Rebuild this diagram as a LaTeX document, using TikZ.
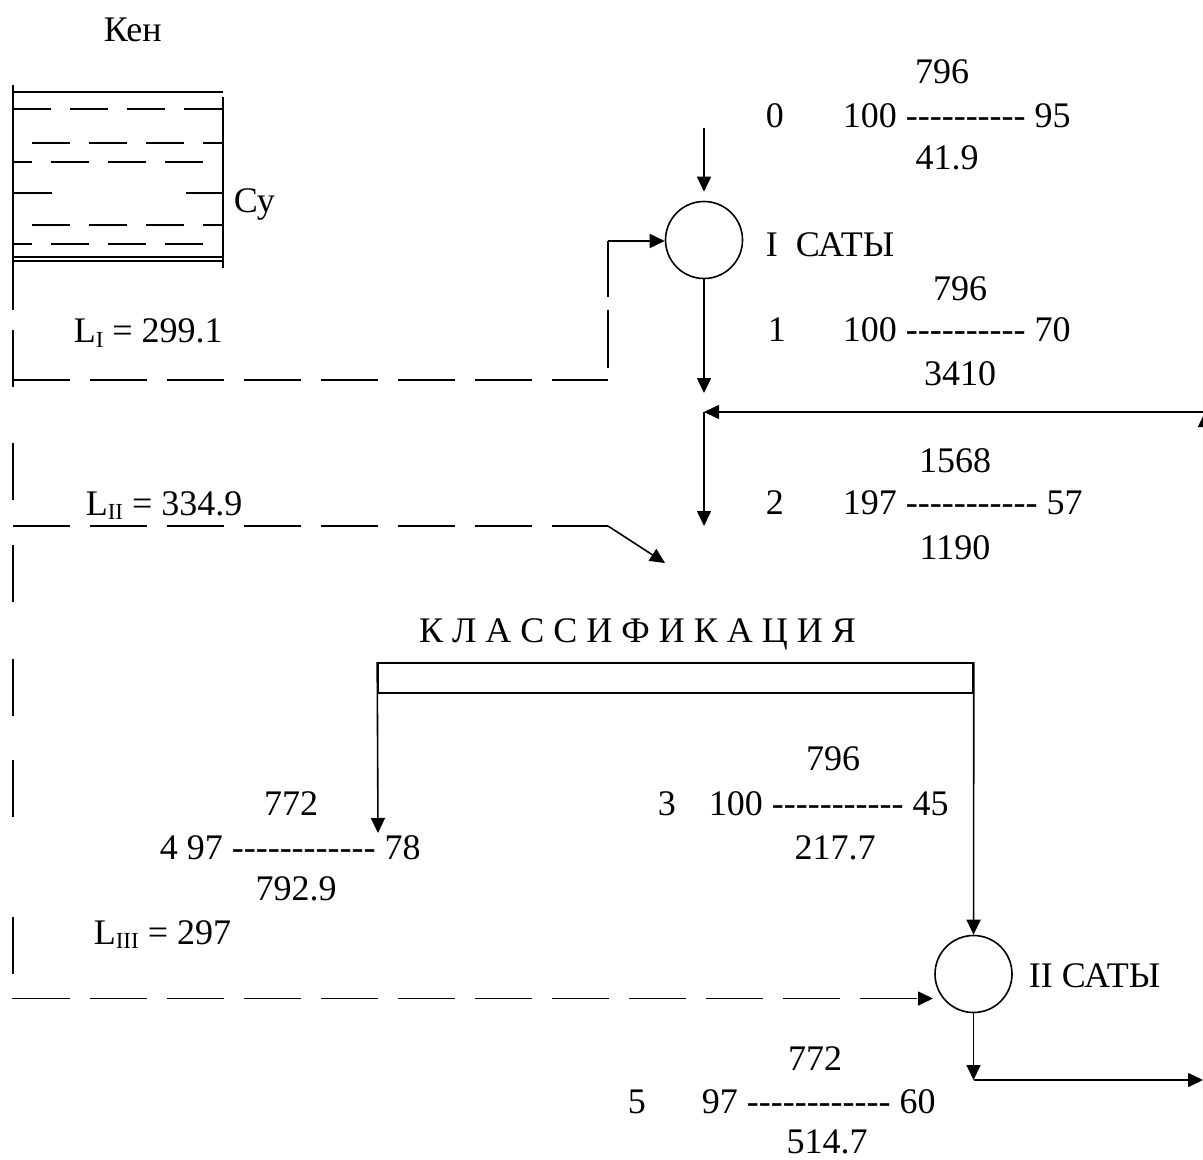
\documentclass[tikz,border=0pt]{standalone}
\usepackage{fontspec}
\setmainfont{Liberation Serif}[Ligatures=TeXOff]
\usetikzlibrary{arrows.meta}

% small lowered index after L
\newcommand{\Lsub}[1]{\raisebox{-2pt}{\fontsize{11.5}{12}\selectfont #1}}

\begin{document}
\begin{tikzpicture}[
    x=0.5pt, y=-0.5pt,
    font=\fontsize{18}{21}\selectfont,
    line width=0.8pt,
    txt/.style={inner sep=0pt, anchor=base},
    row/.style={inner sep=0pt, anchor=base west},
    stage/.style={circle, draw, minimum size=38.5pt, inner sep=0pt},
    arr/.style={-{Triangle[length=7.5pt, width=7pt]}},
    flowline/.style={dash pattern=on 28.5pt off 10pt},
    riser/.style={dash pattern=on 29pt off 6.5pt, dash phase=29.5pt},
    trunk/.style={dash pattern=on 28.5pt off 28pt on 28.5pt off 22.5pt on 28.5pt off 28.5pt
                  on 28.5pt off 22pt on 28.5pt off 50pt on 28.5pt off 12pt},
    water/.style={dash pattern=on 19pt off 9.5pt}
]
\useasboundingbox (0,0) rectangle (1203,1160);

% ---------------- Tank ----------------
\node[row] (ken) at (103,42) {Кен};
\draw (13,85) -- (13,310);
\draw (13,92) -- (223,92);
\draw (223,97) -- (223,268);
\draw (13,257) -- (223,257);
\draw (13,261) -- (223,261);
\draw[water] (13,109) -- (223,109);
\draw[water, dash phase=19pt] (13,143) -- (223,143);
\draw[water, dash phase=9.5pt] (13,162) -- (223,162);
\draw (13,193) -- (52,193);
\draw (186,193) -- (223,193);
\draw[water, dash phase=19pt] (13,225) -- (223,225);
\draw[water, dash phase=9.5pt] (13,244) -- (223,244);
\node[row] (su) at (233,213) {Су};

\node[row] (li_lbl) at (73,343) {L\Lsub{I} = 299.1};
\node[row] (lii_lbl) at (85,515) {L\Lsub{II} = 334.9};
\node[row] (liii_lbl) at (93,944) {L\Lsub{III} = 297};

% ---------------- Stages ----------------
\node[stage] (st1) at (704,240) {};
\node[row] (st1_lbl) at (765,257) {I~~САТЫ};
\node[stage] (st2) at (973.5,974) {};
\node[row] (st2_lbl) at (1028,987) {II САТЫ};

% ---------------- Classification ----------------
\node[txt] (cls_lbl) at (637.5,642) {К Л А С С И Ф И К А Ц И Я};
\node[draw, inner sep=0pt, minimum width=297.5pt, minimum height=15pt] (cls) at (675.5,678) {};

% ---------------- Flow data ----------------
\node[txt] (f0_top) at (942,84) {796};
\node[row] (f0_no) at (765,128) {0};
\node[row] (f0) at (842,128) {100 ---------- 95};
\node[txt] (f0_bot) at (947,170) {41.9};

\node[txt] (f1_top) at (960,300) {796};
\node[row] (f1_no) at (767,342) {1};
\node[row] (f1) at (842,342) {100 ---------- 70};
\node[txt] (f1_bot) at (960,385) {3410};

\node[txt] (f2_top) at (955,472) {1568};
\node[row] (f2_no) at (765,514) {2};
\node[row] (f2) at (842,514) {197 ----------- 57};
\node[txt] (f2_bot) at (955,559) {1190};

\node[txt] (f3_top) at (833,770) {796};
\node[row] (f3_no) at (657,815) {3};
\node[row] (f3) at (708,815) {100 ----------- 45};
\node[txt] (f3_bot) at (835,859) {217.7};

\node[txt] (f4_top) at (291,815) {772};
\node[row] (f4) at (159,859) {4 97 ------------ 78};
\node[txt] (f4_bot) at (296,900) {792.9};

\node[txt] (f5_top) at (815,1070) {772};
\node[row] (f5_no) at (627,1113) {5};
\node[row] (f5) at (701,1113) {97 ------------ 60};
\node[txt] (f5_bot) at (827,1153) {514.7};

% ---------------- Points ----------------
\coordinate (feed) at (704,128);
\coordinate (st1_out) at (704,393);
\coordinate (ret) at (704,412);
\coordinate (ret_r) at (1205,412);
\coordinate (ret_b) at (1205,480);
\coordinate (cls_in) at (704,526);
\coordinate (tank_out) at (13,330);
\coordinate (li_start) at (13,380);
\coordinate (li_turn) at (608,380);
\coordinate (li_up) at (608,241);
\coordinate (lii_start) at (13,526);
\coordinate (lii_turn) at (608,526);
\coordinate (lii_end) at (665,563);
\coordinate (liii_start) at (13,998.5);
\coordinate (st2_in) at (933,998.5);
\coordinate (f4_in) at (378,833);
\coordinate (st2_out) at (973.5,1080);
\coordinate (prod) at (1203,1080);

% ---------------- Arrows ----------------
\draw[arr, shorten >=4.5pt] (feed) -- (st1);
\draw[arr] (st1) -- (st1_out);
\draw[arr] (ret_b) -- (ret_r);
\draw[arr] (ret_r) -- (ret);
\draw[arr] (ret) -- (cls_in);

\draw[flowline] (li_start) -- (li_turn);
\draw[riser] (li_turn) -- (li_up);
\draw[arr] (li_up) -- (li_up -| st1.west);

\draw[trunk] (tank_out) -- (liii_start);
\draw[flowline] (lii_start) -- (lii_turn);
\draw[arr] (lii_turn) -- (lii_end);
\draw[flowline, arr] (liii_start) -- (st2_in);

\draw[arr] (cls.north west) -- (f4_in);
\draw[arr] (cls.north east) -- (st2);
\draw[arr] (st2) -- (st2_out);
\draw[arr] (st2_out) -- (prod);

\end{tikzpicture}
\end{document}
